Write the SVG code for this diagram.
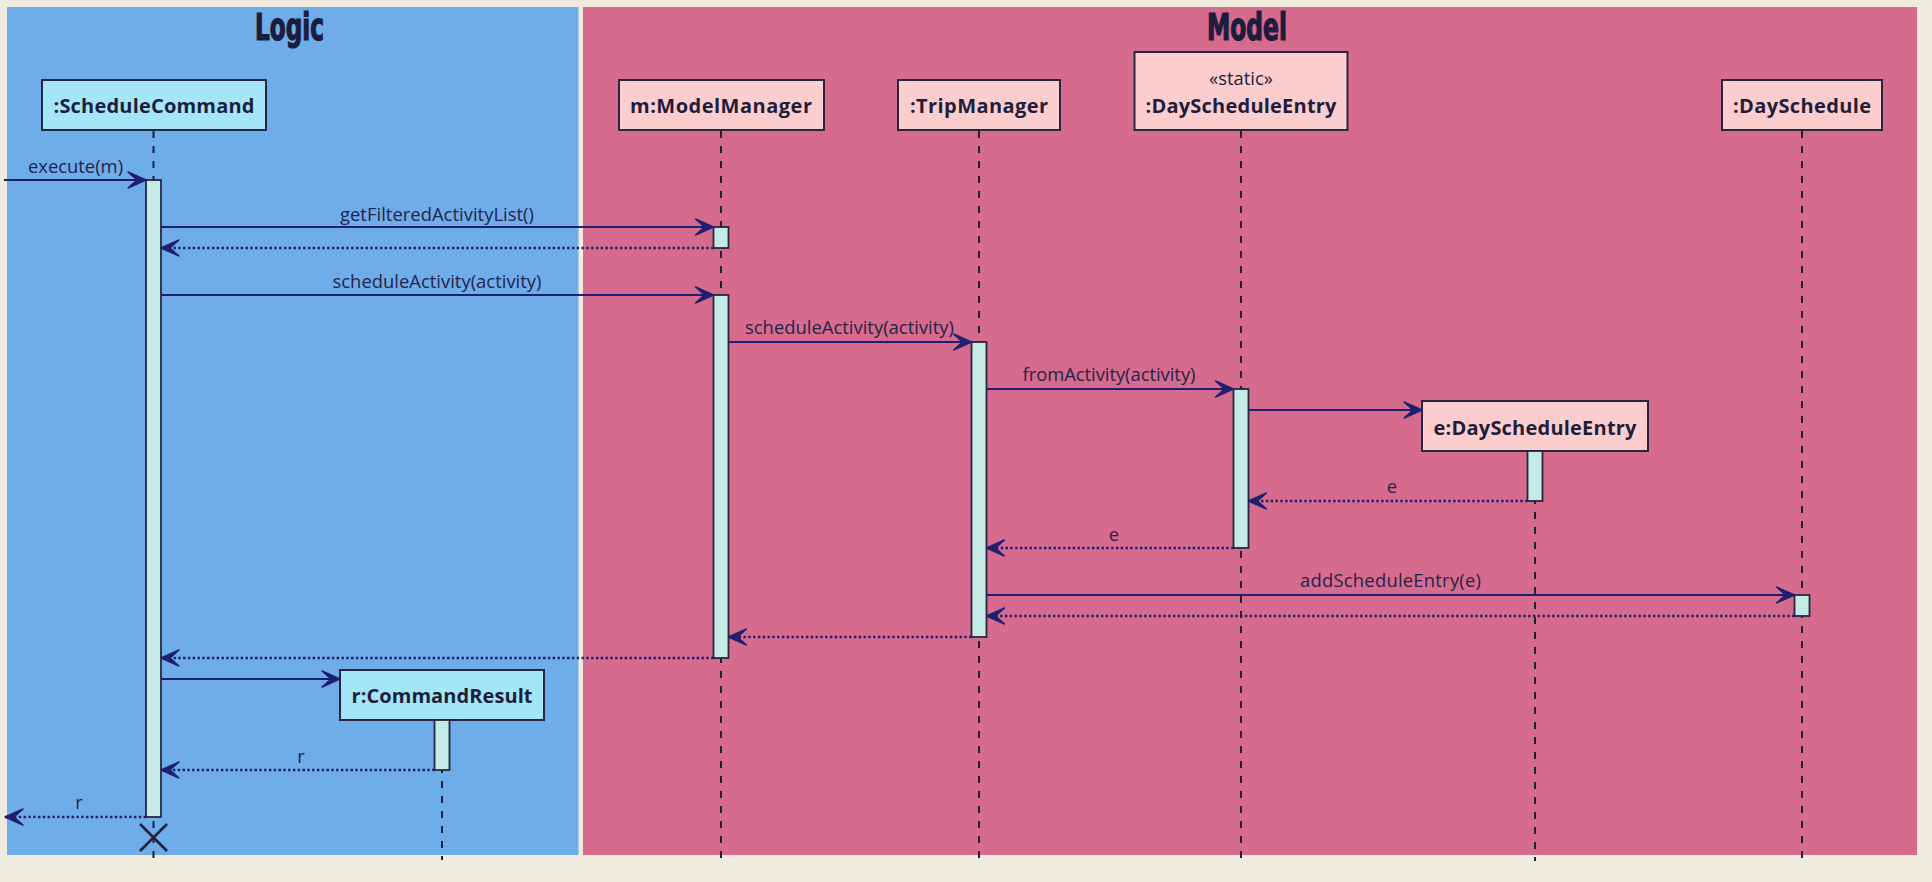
<svg xmlns="http://www.w3.org/2000/svg" width="1932" height="882" viewBox="0 0 1932 882">
<defs>
<style>
.title{font-family:"Liberation Sans Narrow","DejaVu Sans Condensed","DejaVu Sans",sans-serif;font-weight:bold;font-size:37px;fill:#1c1c3d;text-anchor:middle;stroke:#1c1c3d;stroke-width:1.2}
.head{fill:#fccdcd;stroke:#262641;stroke-width:2}
.headL{fill:#a2e6f8;stroke:#262641;stroke-width:2}
.hname{font-family:"Open Sans","Noto Sans",sans-serif;font-weight:bold;font-size:20px;fill:#1e1e3c;text-anchor:middle}
.stereo{font-family:"Open Sans","Noto Sans",sans-serif;font-size:18.4px;fill:#1e1e3c;text-anchor:middle}
.life{stroke:#1f1f3a;stroke-width:2;stroke-dasharray:7 8;fill:none}
.act{fill:#c5e9e3;stroke:#262641;stroke-width:1.8}
.msg{stroke:#1f1f72;stroke-width:2.2;fill:none;marker-end:url(#ah)}
.ret{stroke:#1f1f72;stroke-width:2.4;fill:none;stroke-dasharray:2.4 2.4;marker-end:url(#ah)}
.lbl{font-family:"Open Sans","Noto Sans",sans-serif;font-size:18.4px;fill:#24244a;text-anchor:middle}
</style>
<marker id="ah" markerUnits="userSpaceOnUse" viewBox="-21 -11 23 22" refX="0" refY="0" markerWidth="23" markerHeight="22" orient="auto">
<path d="M0,0 L-18,-8 L-9,0 L-18,8 Z" fill="#1f1f72" stroke="#1f1f72" stroke-width="1.4" stroke-linejoin="round"/>
</marker>
</defs>
<rect x="0" y="0" width="1932" height="882" fill="#efebdd"/>
<g id="box-logic">
<rect x="7" y="7" width="571.5" height="848" fill="#6facea"/>
<text class="title" x="289.5" y="40" textLength="69" lengthAdjust="spacingAndGlyphs">Logic</text>
</g>
<g id="box-model">
<rect x="583" y="7" width="1334" height="848" fill="#d66b8d"/>
<text class="title" x="1247" y="40" textLength="80" lengthAdjust="spacingAndGlyphs">Model</text>
</g>
<g id="lifelines">
<line class="life" x1="153.5" y1="131" x2="153.5" y2="860"/>
<line class="life" x1="721" y1="131" x2="721" y2="860"/>
<line class="life" x1="979" y1="131" x2="979" y2="860"/>
<line class="life" x1="1241" y1="131" x2="1241" y2="860"/>
<line class="life" x1="1802" y1="131" x2="1802" y2="860"/>
<line class="life" x1="1535" y1="452" x2="1535" y2="861"/>
<line class="life" x1="442" y1="721" x2="442" y2="860"/>
</g>
<g id="n-schedulecommand">
<rect class="headL" x="42" y="80" width="224" height="50"/>
<text class="hname" x="154" y="113" textLength="201">:ScheduleCommand</text>
<rect class="act" x="146" y="180" width="15" height="637"/>
<path d="M140,824 L167,851 M167,824 L140,851" stroke="#222236" stroke-width="2.6"/>
</g>
<g id="n-modelmanager">
<rect class="head" x="619" y="80" width="205" height="50"/>
<text class="hname" x="721" y="113" textLength="182">m:ModelManager</text>
<rect class="act" x="713.5" y="227" width="15" height="21"/>
<rect class="act" x="713.5" y="295" width="15" height="363"/>
</g>
<g id="n-tripmanager">
<rect class="head" x="898" y="80" width="162" height="50"/>
<text class="hname" x="979" y="113" textLength="138">:TripManager</text>
<rect class="act" x="971.5" y="342" width="15" height="295"/>
</g>
<g id="n-dayscheduleentry-static">
<rect class="head" x="1134.5" y="52" width="213" height="78"/>
<text class="stereo" x="1241" y="85">«static»</text>
<text class="hname" x="1241" y="113" textLength="191">:DayScheduleEntry</text>
<rect class="act" x="1233.5" y="389" width="15" height="159"/>
</g>
<g id="n-dayschedule">
<rect class="head" x="1722" y="80" width="160" height="50"/>
<text class="hname" x="1802" y="113" textLength="138">:DaySchedule</text>
<rect class="act" x="1794.5" y="595" width="15" height="21"/>
</g>
<g id="n-e-dayscheduleentry">
<rect class="head" x="1422" y="401" width="226" height="50"/>
<text class="hname" x="1535" y="435" textLength="203">e:DayScheduleEntry</text>
<rect class="act" x="1527.5" y="451" width="15" height="50"/>
</g>
<g id="n-r-commandresult">
<rect class="headL" x="340" y="670" width="204" height="50"/>
<text class="hname" x="442" y="703" textLength="181">r:CommandResult</text>
<rect class="act" x="434.5" y="720" width="15" height="50"/>
</g>
<g id="connectors">
<line class="msg" x1="4" y1="180" x2="146" y2="180"/>
<text class="lbl" x="75.5" y="173">execute(m)</text>
<line class="msg" x1="161" y1="227" x2="713.5" y2="227"/>
<text class="lbl" x="437" y="221" textLength="194">getFilteredActivityList()</text>
<line class="ret" x1="713.5" y1="248" x2="161" y2="248"/>
<line class="msg" x1="161" y1="295" x2="713.5" y2="295"/>
<text class="lbl" x="437" y="288" textLength="209">scheduleActivity(activity)</text>
<line class="msg" x1="728.5" y1="342" x2="971.5" y2="342"/>
<text class="lbl" x="849.5" y="334" textLength="209">scheduleActivity(activity)</text>
<line class="msg" x1="986.5" y1="389" x2="1233.5" y2="389"/>
<text class="lbl" x="1109" y="381" textLength="173">fromActivity(activity)</text>
<line class="msg" x1="1248.5" y1="410" x2="1422" y2="410"/>
<line class="ret" x1="1527.5" y1="501" x2="1248.5" y2="501"/>
<text class="lbl" x="1392" y="493">e</text>
<line class="ret" x1="1233.5" y1="548" x2="986.5" y2="548"/>
<text class="lbl" x="1114" y="540.5">e</text>
<line class="msg" x1="986.5" y1="595" x2="1794.5" y2="595"/>
<text class="lbl" x="1390.5" y="587" textLength="181">addScheduleEntry(e)</text>
<line class="ret" x1="1794.5" y1="616" x2="986.5" y2="616"/>
<line class="ret" x1="971.5" y1="637" x2="728.5" y2="637"/>
<line class="ret" x1="713.5" y1="658" x2="161" y2="658"/>
<line class="msg" x1="161" y1="679" x2="340" y2="679"/>
<line class="ret" x1="434.5" y1="770" x2="161" y2="770"/>
<text class="lbl" x="301" y="763">r</text>
<line class="ret" x1="146" y1="817" x2="5" y2="817"/>
<text class="lbl" x="79" y="809">r</text>
</g>
</svg>
